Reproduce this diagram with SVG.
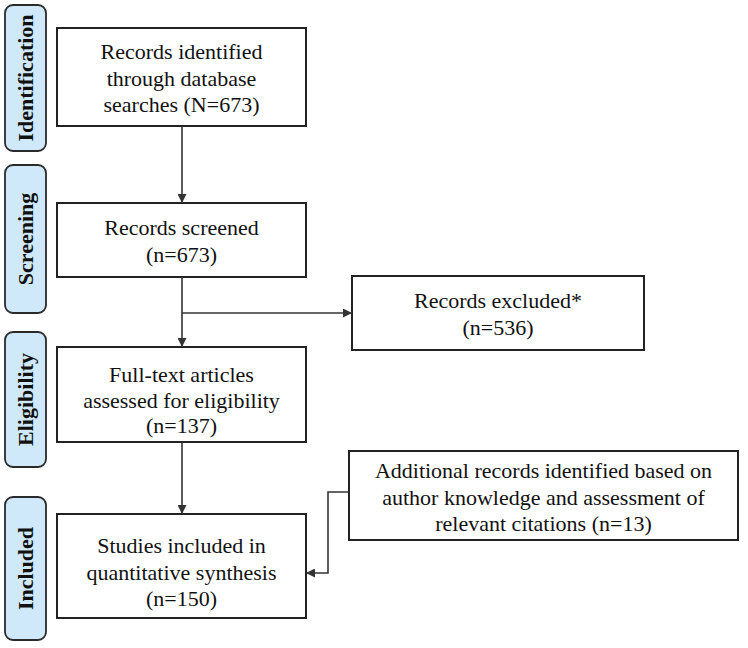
<svg xmlns="http://www.w3.org/2000/svg" width="748" height="648" viewBox="0 0 748 648">
<style>
.lab{fill:#cfe9fb;stroke:#2a2a2a;stroke-width:1.8}
.lt{font-family:'Liberation Serif','Times New Roman',serif;font-weight:bold;font-size:22px;fill:#111;text-anchor:middle}
.box{fill:#fff;stroke:#222;stroke-width:2}
.t{font-family:'Liberation Serif','Times New Roman',serif;font-size:22px;fill:#111;text-anchor:middle}
.c{fill:none;stroke:#333;stroke-width:1.6}
</style>
<defs>
<marker id="ah" viewBox="0 0 10 10" refX="10" refY="5" markerWidth="10" markerHeight="9" markerUnits="userSpaceOnUse" orient="auto">
<path d="M0,0 L10,5 L0,10 z" fill="#333"/>
</marker>
</defs>
<rect width="748" height="648" fill="#fff"/>
<g id="label-identification"><rect class="lab" x="5" y="5" width="41" height="146" rx="8"/><text class="lt" transform="translate(33,78) rotate(-90)">Identification</text></g>
<g id="label-screening"><rect class="lab" x="5" y="165" width="41" height="148" rx="8"/><text class="lt" transform="translate(33,239) rotate(-90)">Screening</text></g>
<g id="label-eligibility"><rect class="lab" x="5" y="332" width="41" height="135" rx="8"/><text class="lt" transform="translate(33,399.5) rotate(-90)">Eligibility</text></g>
<g id="label-included"><rect class="lab" x="5" y="497" width="41" height="143" rx="8"/><text class="lt" transform="translate(33,568.5) rotate(-90)">Included</text></g>

<g id="identified"><rect class="box" x="57" y="28" width="249" height="98"/>
<text class="t" x="181.5" y="59">Records identified</text>
<text class="t" x="181.5" y="86">through database</text>
<text class="t" x="181.5" y="112">searches (N=673)</text></g>

<g id="screened"><rect class="box" x="57" y="203" width="249" height="74"/>
<text class="t" x="181.5" y="235">Records screened</text>
<text class="t" x="181.5" y="262">(n=673)</text></g>

<g id="excluded"><rect class="box" x="352" y="276" width="292" height="74"/>
<text class="t" x="498" y="308">Records excluded*</text>
<text class="t" x="498" y="335">(n=536)</text></g>

<g id="fulltext"><rect class="box" x="57" y="347" width="249" height="95"/>
<text class="t" x="181.5" y="382">Full-text articles</text>
<text class="t" x="181.5" y="408">assessed for eligibility</text>
<text class="t" x="181.5" y="433">(n=137)</text></g>

<g id="additional"><rect class="box" x="349" y="451" width="389" height="89"/>
<text class="t" x="543.5" y="478">Additional records identified  based on</text>
<text class="t" x="543.5" y="505">author knowledge and assessment of</text>
<text class="t" x="543.5" y="531">relevant  citations (n=13)</text></g>

<g id="included"><rect class="box" x="57" y="514" width="249" height="104"/>
<text class="t" x="181.5" y="553">Studies included in</text>
<text class="t" x="181.5" y="580">quantitative synthesis</text>
<text class="t" x="181.5" y="606">(n=150)</text></g>

<g id="connectors">
<path class="c" d="M182,126 V203" marker-end="url(#ah)"/>
<path class="c" d="M182,277 V347" marker-end="url(#ah)"/>
<path class="c" d="M182,313 H352" marker-end="url(#ah)"/>
<path class="c" d="M182,442 V514" marker-end="url(#ah)"/>
<path class="c" d="M349,492 H328 V573 H306" marker-end="url(#ah)"/>
</g>
</svg>
